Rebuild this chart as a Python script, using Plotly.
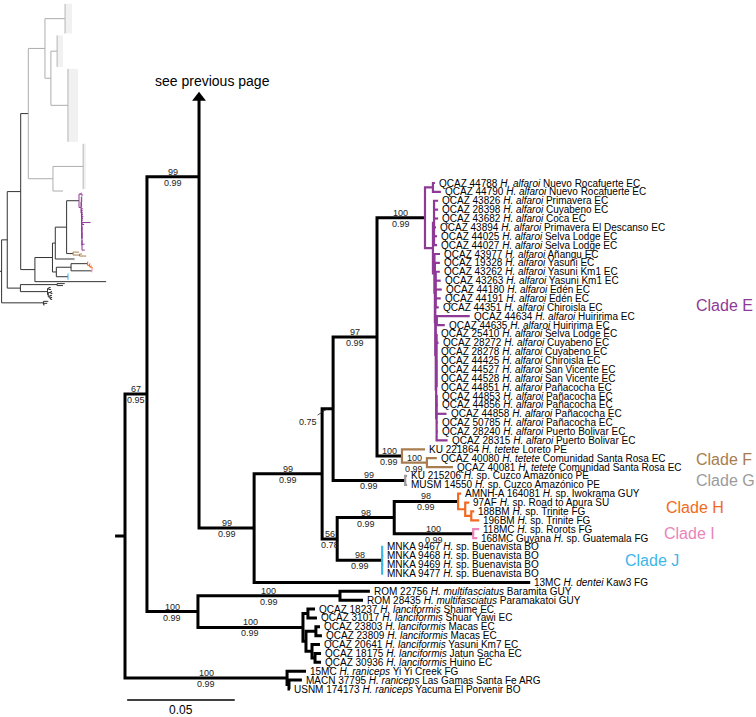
import plotly.graph_objects as go

# ---------------------------------------------------------------- data
VOUCHERS = [
    "QCAZ 44788", "QCAZ 44790", "QCAZ 43826", "QCAZ 28398", "QCAZ 43682",
    "QCAZ 43894", "QCAZ 44025", "QCAZ 44027", "QCAZ 43977", "QCAZ 19328",
    "QCAZ 43262", "QCAZ 43263", "QCAZ 44180", "QCAZ 44191", "QCAZ 44351",
    "QCAZ 44634", "QCAZ 44635", "QCAZ 25410", "QCAZ 28272", "QCAZ 28278",
    "QCAZ 44425", "QCAZ 44527", "QCAZ 44528", "QCAZ 44851", "QCAZ 44853",
    "QCAZ 44856", "QCAZ 44858", "QCAZ 50785", "QCAZ 28240", "QCAZ 28315",
    "KU 221864", "QCAZ 40080", "QCAZ 40081", "KU 215206", "MUSM 14550",
    "AMNH-A 164081", "97AF", "188BM", "196BM", "118MC", "168MC Guyana",
    "MNKA 9467", "MNKA 9468", "MNKA 9469", "MNKA 9477", "13MC",
    "ROM 22756", "ROM 28435", "QCAZ 18237", "QCAZ 31017", "QCAZ 23803",
    "QCAZ 23809", "QCAZ 20641", "QCAZ 18175", "QCAZ 30936", "15MC",
    "MACN 37795", "USNM 174173",
]
SPECIES = (["alfaroi"] * 30 + ["tetete"] * 3 + ["sp."] * 12 + ["dentei"]
           + ["multifasciatus"] * 2 + ["lanciformis"] * 7 + ["raniceps"] * 3)
LOCALITIES = [
    "Nuevo Rocafuerte EC", "Nuevo Rocafuerte EC", "Primavera EC", "Cuyabeno EC",
    "Coca EC", "Primavera El Descanso EC", "Selva Lodge EC", "Selva Lodge EC",
    "Añangu EC", "Yasuni EC", "Yasuni Km1 EC", "Yasuni Km1 EC", "Edén EC",
    "Edén EC", "Chiroisla EC", "Huiririma EC", "Huiririma EC", "Selva Lodge EC",
    "Cuyabeno EC", "Cuyabeno EC", "Chiroisla EC", "San Vicente EC",
    "San Vicente EC", "Pañacocha EC", "Pañacocha EC", "Pañacocha EC",
    "Pañacocha EC", "Pañacocha EC", "Puerto Bolivar EC", "Puerto Bolivar EC",
    "Loreto PE", "Comunidad Santa Rosa EC", "Comunidad Santa Rosa EC",
    "Cuzco Amazónico PE", "Cuzco Amazónico PE", "Iwokrama GUY",
    "Road to Apura SU", "Trinite FG", "Trinite FG", "Rorots FG", "Guatemala FG",
    "Buenavista BO", "Buenavista BO", "Buenavista BO", "Buenavista BO",
    "Kaw3 FG", "Baramita GUY", "Paramakatoi GUY", "Shaime EC", "Shuar Yawi EC",
    "Macas EC", "Macas EC", "Yasuni Km7 EC", "Jatun Sacha EC", "Huino EC",
    "Yi Yi Creek FG", "Las Gamas Santa Fe ARG", "Yacuma El Porvenir BO",
]

# Newick pieces (branch lengths in substitutions/site; labels = bootstrap/posterior)
E_NWK = ("((T0:0.0009,T1:0.0037):0.0037,"
         "((T2:0.0019,T3:0.0019,T4:0.0019,T5:0.0009,T6:0.0014,T7:0.0014):0.0005,"
         "(T8:0.0026,(T9:0.0023,((T10:0.0019,T11:0.0023,T12:0.0028,T13:0.0023,T14:0.0014):0.0002,"
         "((T15:0.0153,T16:0.0037):0.0005,"
         "((T17:0.0,T18:0.0009,T19:0.0,T20:0.0,T21:0.0,T22:0.0,T23:0.0):0.0002,"
         "(T24:0.0005,T25:0.0005,T26:0.0046,T27:0.0005,T28:0.0005,T29:0.0051):0.0002"
         "):0.0002):0.0002):0.0002):0.0002):0.0007):0.0037)100/0.99:0.0223")
F_NWK = "(T30:0.0107,(T31:0.0046,T32:0.0121)100/0.99:0.0116)100/0.99:0.0116"
G_NWK = "(T33:0.0009,T34:0.0009)99/0.99:0.0335"
H_NWK = "(T35:0.0014,(T36:0.0019,(T37:0.0014,T38:0.0037):0.0028):0.0033)98/0.99:0.0297"
I_NWK = "(T39:0.0028,T40:0.0019)100/0.99:0.0367"
J_NWK = "(T41:0.0005,T42:0.0005,T43:0.0005,T44:0.0005)98/0.99:0.0209"
MULTI_NWK = "(T46:0.0139,T47:0.0107)100/0.99:0.0660"
LANC_NWK = ("((T48:0.0033,T49:0.0042):0.0023,((T50:0.0019,T51:0.0028):0.0046,"
            "(T52:0.0037,(T53:0.0028,T54:0.0028):0.0014):0.0028):0.0014)100/0.99:0.0488")
RANI_NWK = "(T55:0.0088,(T56:0.0060,T57:0.0005):0.0009)100/0.99:0.0753"
PREV_NWK = ("((GA:0.0362,(GB1:0.0112,GB2:0.0307):0.0107):0.0300,"
            "(GC:0.0544,GD:0.0181):0.0444)PREV:0.0137")
# collapsed clades of the previous page (rows spanned, tip depth)
COLLAPSED = {"GA": (16, 0.0125), "GB1": (17, 0.0107), "GB2": (38, 0.0181), "GC": (24, 0.0051)}

TREE_NWK = ("(((" + PREV_NWK + ",((((" + E_NWK + "," + F_NWK + ")97/0.99:0.0204," + G_NWK +
            ")0.75:0.0051,((" + H_NWK + "," + I_NWK + ")98/0.99:0.0265," + J_NWK +
            ")56/0.78:0.0070)99/0.99:0.0316,T45:0.1283)99/0.99:0.0256)99/0.99:0.0242,(" +
            MULTI_NWK + "," + LANC_NWK + ")100/0.99:0.0237)67/0.95:0.0102," + RANI_NWK + "):0.0046;")

CLADE_NAMES = ["Clade E", "Clade F", "Clade G", "Clade H", "Clade I", "Clade J"]
CLADE_FIRST = [0, 30, 33, 35, 39, 41]
CLADE_LAST = [29, 32, 34, 38, 40, 44]
CLADE_COLORS = ["#8E3A96", "#A87C4F", "#9B9B9B", "#F26A21", "#EC84B9", "#3DB6E8"]
CLADE_LABEL_X = [0.2644, 0.2644, 0.2644, 0.2505, 0.2495, 0.2314]
CLADE_LABEL_ROW = [13.8, 31.2, 33.5, 36.6, 39.5, 42.5]

SCALE_BAR_LEN = 0.05
SCALE_BAR_START = 0.001
SCALE_BAR_LABEL = "0.05"
PREV_TEXT = "see previous page"

# ---------------------------------------------------------------- layout constants
K = 0.05 / 107.6          # substitutions per pixel in the main panel
ROW_PX = (689 - 183) / 57  # pixels per tip row
ARROW_ROW = -9.6
SCALE_ROW = 58.24
FONT = "Liberation Sans, Arial, Helvetica, sans-serif"


# ---------------------------------------------------------------- parse tree
def parse_newick(s):
    s = s.strip().rstrip(";")
    pos = 0

    def parse():
        nonlocal pos
        node = {"children": [], "name": "", "label": "", "length": 0.0}
        if s[pos] == "(":
            pos += 1
            while True:
                node["children"].append(parse())
                if s[pos] == ",":
                    pos += 1
                    continue
                if s[pos] == ")":
                    pos += 1
                    break
        start = pos
        while pos < len(s) and s[pos] not in ",():":
            pos += 1
        txt = s[start:pos]
        if node["children"]:
            node["label"] = txt
        else:
            node["name"] = txt
        if pos < len(s) and s[pos] == ":":
            pos += 1
            start = pos
            while pos < len(s) and s[pos] not in ",()":
                pos += 1
            node["length"] = float(s[start:pos])
        return node

    return parse()


root = parse_newick(TREE_NWK)


def walk(n):
    yield n
    for c in n["children"]:
        yield from walk(c)


def set_x(n, parent_x):
    n["px"] = parent_x
    n["x"] = parent_x + n["length"]
    for c in n["children"]:
        set_x(c, n["x"])


set_x(root, -root["length"])

counter = [0]


def set_rows(n):
    if not n["children"]:
        if n["name"] in COLLAPSED:
            cnt = COLLAPSED[n["name"]][0]
            n["r0"] = counter[0]
            n["r1"] = counter[0] + cnt - 1
            n["y"] = (n["r0"] + n["r1"]) / 2
            counter[0] += cnt
        else:
            n["y"] = counter[0]
            counter[0] += 1
    else:
        for c in n["children"]:
            set_rows(c)
        n["y"] = (n["children"][0]["y"] + n["children"][-1]["y"]) / 2


set_rows(root)
shift = [n for n in walk(root) if n["name"] == "T0"][0]["y"]
for n in walk(root):
    n["y"] -= shift
    if "r0" in n:
        n["r0"] -= shift
        n["r1"] -= shift


def mark(n, hidden):
    n["hidden"] = hidden or n["label"] == "PREV"
    for c in n["children"]:
        mark(c, n["hidden"])


mark(root, False)


def tips_of(n):
    if not n["children"]:
        return {int(n["name"][1:])} if n["name"].startswith("T") else set()
    out = set()
    for c in n["children"]:
        out |= tips_of(c)
    return out


for n in walk(root):
    n["tips"] = tips_of(n)


def clade_index(n):
    if not n["tips"]:
        return None
    for i in range(len(CLADE_NAMES)):
        if all(CLADE_FIRST[i] <= t <= CLADE_LAST[i] for t in n["tips"]):
            return i
    return None


# ---------------------------------------------------------------- build line segments
def build_segments(panel):
    segs = {}

    def add(color, pts):
        xs, ys = segs.setdefault(color, ([], []))
        for px_, py_ in pts:
            xs.append(px_)
            ys.append(py_)
        xs.append(None)
        ys.append(None)

    def color_of(n):
        if panel == "thumb" and n["hidden"]:
            return "#ADADAD"
        ci = clade_index(n)
        if ci is not None:
            return CLADE_COLORS[ci]
        return "#000000" if panel == "main" else "#333333"

    add(color_of(root), [(root["px"], root["y"]), (root["x"], root["y"])])

    for n in walk(root):
        ch = n["children"]
        if not ch:
            continue
        if panel == "main" and n["hidden"]:
            continue
        col = color_of(n)
        if panel == "main":
            vis = [c for c in ch if not c["hidden"]]
            has_hidden = len(vis) < len(ch)
        else:
            vis = ch
            has_hidden = False
        first, last = vis[0], vis[-1]
        if has_hidden:
            add(col, [(n["x"], ARROW_ROW), (n["x"], last["y"]), (last["x"], last["y"])])
            middle = vis[:-1]
        else:
            add(col, [(first["x"], first["y"]), (n["x"], first["y"]),
                      (n["x"], last["y"]), (last["x"], last["y"])])
            middle = vis[1:-1]
        for c in middle:
            add(col, [(n["x"], c["y"]), (c["x"], c["y"])])
    return segs


fig = go.Figure()

main_segs = build_segments("main")
for col, (xs, ys) in main_segs.items():
    fig.add_trace(go.Scatter(x=xs, y=ys, mode="lines",
                             line=dict(color=col, width=3 if col == "#000000" else 2.2),
                             hoverinfo="skip", showlegend=False))

thumb_segs = build_segments("thumb")
for col, (xs, ys) in thumb_segs.items():
    fig.add_trace(go.Scatter(x=xs, y=ys, mode="lines", xaxis="x2", yaxis="y2",
                             line=dict(color=col, width=1),
                             hoverinfo="skip", showlegend=False))

# collapsed clades in the overview
for n in walk(root):
    if n["name"] in COLLAPSED:
        depth = COLLAPSED[n["name"]][1]
        fig.add_trace(go.Scatter(
            x=[n["x"], n["x"] + depth, n["x"] + depth, n["x"], n["x"]],
            y=[n["r0"], n["r0"], n["r1"], n["r1"], n["r0"]],
            mode="lines", fill="toself", fillcolor="rgba(175,175,175,0.18)",
            line=dict(width=0), xaxis="x2", yaxis="y2",
            hoverinfo="skip", showlegend=False))
        fig.add_trace(go.Scatter(
            x=[n["x"], n["x"]], y=[n["r0"], n["r1"]], mode="lines",
            line=dict(color="#B5B5B5", width=1), xaxis="x2", yaxis="y2",
            hoverinfo="skip", showlegend=False))

# arrow to previous page
upper = [n for n in walk(root) if any(c["hidden"] for c in n["children"]) and not n["hidden"]][0]
fig.add_trace(go.Scatter(x=[upper["x"]], y=[ARROW_ROW], mode="markers",
                         marker=dict(symbol="triangle-up", size=12, color="#000000",
                                     line=dict(width=0)),
                         hoverinfo="skip", showlegend=False))

# scale bar
fig.add_trace(go.Scatter(x=[SCALE_BAR_START, SCALE_BAR_START + SCALE_BAR_LEN],
                         y=[SCALE_ROW, SCALE_ROW], mode="lines",
                         line=dict(color="#000000", width=1.6),
                         hoverinfo="skip", showlegend=False))

annotations = []

# tip labels
for n in walk(root):
    if n["children"] or not n["name"].startswith("T"):
        continue
    i = int(n["name"][1:])
    sp = SPECIES[i]
    if sp == "sp.":
        txt = f"{VOUCHERS[i]} <i>H.</i> sp. {LOCALITIES[i]}"
    else:
        txt = f"{VOUCHERS[i]} <i>H. {sp}</i> {LOCALITIES[i]}"
    annotations.append(dict(x=n["x"], y=n["y"], xref="x", yref="y", text=txt,
                            showarrow=False, xanchor="left", yanchor="middle",
                            xshift=2, font=dict(family=FONT, size=10, color="#000000")))

# support values
for n in walk(root):
    if not n["label"] or n["hidden"] or n["label"] == "PREV":
        continue
    xm = (n["px"] + n["x"]) / 2
    if "/" in n["label"]:
        bs, pp = n["label"].split("/")
        annotations.append(dict(x=xm, y=n["y"], xref="x", yref="y", text=bs,
                                showarrow=False, xanchor="center", yanchor="middle",
                                yshift=5, font=dict(family=FONT, size=9, color="#222222")))
        annotations.append(dict(x=xm, y=n["y"], xref="x", yref="y", text=pp,
                                showarrow=False, xanchor="center", yanchor="middle",
                                yshift=-6, font=dict(family=FONT, size=9, color="#222222")))
    else:
        annotations.append(dict(x=xm, y=n["y"], xref="x", yref="y", text=n["label"],
                                showarrow=True, arrowhead=0, arrowwidth=0.8,
                                arrowcolor="#222222", ax=-20, ay=13, standoff=0,
                                font=dict(family=FONT, size=9, color="#222222")))

# clade labels
for i, name in enumerate(CLADE_NAMES):
    annotations.append(dict(x=CLADE_LABEL_X[i], y=CLADE_LABEL_ROW[i], xref="x", yref="y",
                            text=name, showarrow=False, xanchor="left", yanchor="middle",
                            font=dict(family=FONT, size=16, color=CLADE_COLORS[i])))

# previous page text
annotations.append(dict(x=upper["x"], y=ARROW_ROW, xref="x", yref="y", text=PREV_TEXT,
                        showarrow=False, xanchor="center", yanchor="middle",
                        xshift=13, yshift=17, font=dict(family=FONT, size=14, color="#000000")))

# scale label
annotations.append(dict(x=SCALE_BAR_START + SCALE_BAR_LEN / 2, y=SCALE_ROW, xref="x", yref="y",
                        text=SCALE_BAR_LABEL, showarrow=False, xanchor="center",
                        yanchor="top", yshift=-1,
                        font=dict(family=FONT, size=12, color="#000000")))

W, H = 756, 717
THUMB_W, THUMB_H = 110, 310
fig.update_layout(
    width=W, height=H, margin=dict(l=0, r=0, t=0, b=0, pad=0),
    paper_bgcolor="white", plot_bgcolor="white", showlegend=False,
    xaxis=dict(range=[-125 * K, (W - 125) * K], visible=False, domain=[0, 1],
               fixedrange=True),
    yaxis=dict(range=[(H - 183) / ROW_PX, -183 / ROW_PX], visible=False, domain=[0, 1],
               fixedrange=True),
    xaxis2=dict(range=[-1.6 * K / 0.258, (THUMB_W - 1.6) * K / 0.258], visible=False,
                domain=[0, THUMB_W / W], anchor="y2", fixedrange=True),
    yaxis2=dict(range=[(THUMB_H - 193) / 1.97, -193 / 1.97], visible=False,
                domain=[1 - THUMB_H / H, 1], anchor="x2", fixedrange=True),
    annotations=annotations,
)

fig.write_html("out.html",
               config={"displayModeBar": False, "staticPlot": True},
               post_script="document.body.style.margin='0px';"
                           "document.body.style.overflow='hidden';")
